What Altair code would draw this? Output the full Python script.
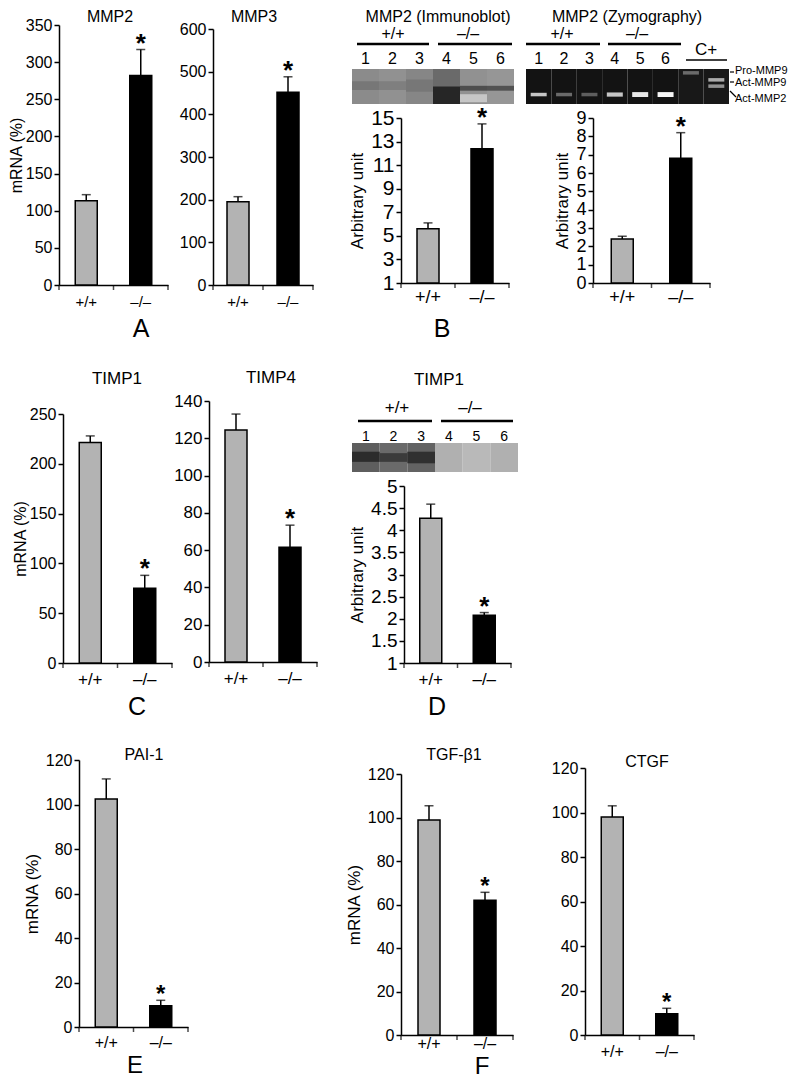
import altair as alt
import pandas as pd

# ---------------- data ----------------
GENO = ["+/+", "–/–"]
SIG = ["", "*"]
BAR_COLORS = ["#b3b3b3", "#000000"]

mmp2_mean = [113.5, 282.0]
mmp2_err = [121.6, 317.0]
mmp2_ticks = [0, 50, 100, 150, 200, 250, 300, 350]

mmp3_mean = [195.0, 452.0]
mmp3_err = [207.0, 488.0]
mmp3_ticks = [0, 100, 200, 300, 400, 500, 600]

ib_mean = [5.6, 12.4]
ib_err = [6.1, 14.5]
ib_ticks = [1, 3, 5, 7, 9, 11, 13, 15]

zy_mean = [2.4, 6.8]
zy_err = [2.55, 8.2]
zy_ticks = [0, 1, 2, 3, 4, 5, 6, 7, 8, 9]

timp1_mean = [221.5, 75.0]
timp1_err = [228.0, 88.0]
timp1_ticks = [0, 50, 100, 150, 200, 250]

timp4_mean = [124.4, 61.6]
timp4_err = [133.0, 73.4]
timp4_ticks = [0, 20, 40, 60, 80, 100, 120, 140]

timp1b_mean = [4.27, 2.08]
timp1b_err = [4.59, 2.14]
timp1b_ticks = [1, 1.5, 2, 2.5, 3, 3.5, 4, 4.5, 5]

pai_mean = [102.5, 9.5]
pai_err = [111.5, 12.0]
tgf_mean = [98.9, 62.0]
tgf_err = [105.4, 65.6]
ctgf_mean = [98.0, 9.5]
ctgf_err = [103.0, 12.0]
pct120_ticks = [0, 20, 40, 60, 80, 100, 120]

# blots (grey level 0 = black, 1 = white)
lanes6 = ["1", "2", "3", "4", "5", "6"]
ib_bg = [0.58, 0.60, 0.56, 0.45, 0.60, 0.62]
ib_band_lane = ["1", "2", "3", "4", "5", "6", "5"]
ib_band_top = [0.35, 0.35, 0.30, 0.50, 0.48, 0.48, 0.72]
ib_band_bot = [0.60, 0.60, 0.65, 1.00, 0.62, 0.62, 0.95]
ib_band_lvl = [0.50, 0.53, 0.50, 0.15, 0.33, 0.35, 0.80]

zy_lanes = ["1", "2", "3", "4", "5", "6", "C1", "C2"]
zy_bg = [0.06, 0.06, 0.06, 0.06, 0.06, 0.06, 0.08, 0.08]
zy_band_lane = ["1", "2", "3", "4", "5", "6", "C1", "C2", "C2"]
zy_band_top = [0.68, 0.68, 0.68, 0.67, 0.66, 0.66, 0.06, 0.26, 0.44]
zy_band_bot = [0.78, 0.78, 0.78, 0.79, 0.80, 0.80, 0.16, 0.36, 0.54]
zy_band_lvl = [0.80, 0.45, 0.40, 0.80, 0.92, 0.97, 0.45, 0.70, 0.60]

tb_bg = [0.40, 0.45, 0.42, 0.72, 0.75, 0.72]
tb_band_lane = ["1", "2", "3"]
tb_band_top = [0.30, 0.35, 0.30]
tb_band_bot = [0.65, 0.65, 0.70]
tb_band_lvl = [0.18, 0.25, 0.20]

# ---------------- layout helpers ----------------
W, H = 784, 1072
FONT = "Liberation Sans"


def P(v):
    return v - 8


def bar_panel(mean, err, ticks, ax, xr, yb, yt, lab_size, xlab_size, xlab_pad, fmt="d",
              title=None, title_size=17, title_pad=4, star_size=26, star_dy=2):
    df = pd.DataFrame({"g": GENO, "m": mean, "e": err, "s": SIG, "base": [ticks[0]] * 2})
    xs = alt.Scale(domain=GENO, range=[P(ax), P(xr)], paddingInner=0, paddingOuter=0)
    ys = alt.Scale(domain=[ticks[0], ticks[-1]], range=[P(yb), P(yt)], nice=False, zero=False)
    xaxis = alt.Axis(orient="bottom", offset=-(H - P(yb)), ticks=False, title=None,
                     labelAngle=0, labelFontSize=xlab_size, labelPadding=xlab_pad)
    yaxis = alt.Axis(orient="left", offset=-P(ax), values=ticks, format=fmt, title=title,
                     labelFontSize=lab_size, labelPadding=2, labelOverlap=False,
                     titleFont=FONT, titleFontSize=title_size, titleFontWeight="normal",
                     titlePadding=title_pad)
    base = alt.Chart(df)
    x = alt.X("g:N", scale=xs, sort=GENO, axis=None)
    out = []
    out.append(base.mark_bar(size=22, stroke="black", strokeWidth=1.5).encode(
        x=alt.X("g:N", scale=xs, sort=GENO, axis=xaxis),
        y=alt.Y("m:Q", scale=ys, axis=yaxis),
        y2="base:Q",
        color=alt.Color("g:N", scale=alt.Scale(domain=GENO, range=BAR_COLORS), legend=None),
    ))
    out.append(base.mark_rule(color="black", strokeWidth=1.5).encode(
        x=x, y=alt.Y("m:Q", scale=ys, axis=None), y2="e:Q"))
    out.append(base.mark_tick(color="black", orient="horizontal", size=9, thickness=1.5).encode(
        x=x, y=alt.Y("e:Q", scale=ys, axis=None)))
    out.append(base.mark_text(font=FONT, fontSize=star_size, fontWeight="bold",
                              baseline="alphabetic", dy=star_dy, color="black").encode(
        x=x, y=alt.Y("e:Q", scale=ys, axis=None), text="s:N"))
    # x-axis ticks at band edges
    out.append(base.mark_tick(color="black", orient="vertical", size=5, thickness=1.5,
                              yOffset=2.5).encode(
        x=alt.X("g:N", scale=xs, sort=GENO, axis=None, bandPosition=0),
        y=alt.Y("base:Q", scale=ys, axis=None)))
    out.append(base.transform_filter(alt.datum.g == GENO[-1]).mark_tick(
        color="black", orient="vertical", size=5, thickness=1.5, yOffset=2.5).encode(
        x=alt.X("g:N", scale=xs, sort=GENO, axis=None, bandPosition=1),
        y=alt.Y("base:Q", scale=ys, axis=None)))
    return out


def blot(lanes, bg, band_lane, band_top, band_bot, band_lvl, x0, x1, y0, y1,
         label_values, lab_size, lab_pad, band_size=None):
    xs = alt.Scale(domain=lanes, range=[P(x0), P(x1)], paddingInner=0, paddingOuter=0)
    ys = alt.Scale(domain=[0, 1], range=[P(y0), P(y1)], nice=False, zero=False)
    cs = alt.Scale(domain=[0, 1], range=["#000000", "#ffffff"])
    bgdf = pd.DataFrame({"lane": lanes, "lv": bg, "t": [0.0] * len(lanes), "b": [1.0] * len(lanes)})
    bddf = pd.DataFrame({"lane": band_lane, "lv": band_lvl, "t": band_top, "b": band_bot})
    back = alt.Chart(bgdf).mark_rect().encode(
        x=alt.X("lane:N", scale=xs, sort=lanes,
                axis=alt.Axis(orient="top", offset=-P(y0), values=label_values, ticks=False,
                              domain=False, labelAngle=0, labelFontSize=lab_size,
                              labelPadding=lab_pad, labelBaseline="alphabetic", title=None)),
        y=alt.Y("t:Q", scale=ys, axis=None), y2="b:Q",
        color=alt.Color("lv:Q", scale=cs, legend=None))
    if band_size:
        bm = alt.Chart(bddf).mark_bar(size=band_size)
    else:
        bm = alt.Chart(bddf).mark_rect()
    bands = bm.encode(
        x=alt.X("lane:N", scale=xs, sort=lanes, axis=None),
        y=alt.Y("t:Q", scale=ys, axis=None), y2="b:Q",
        color=alt.Color("lv:Q", scale=cs, legend=None))
    return [back, bands]


ONE = alt.Data(values=[{"k": 1}])


def txt(s, x, y, size, align="center"):
    return alt.Chart(ONE).mark_text(text=s, align=align, baseline="middle", fontSize=size,
                                    font=FONT, color="black").encode(
        x=alt.value(P(x)), y=alt.value(P(y)))


def line(x1, y1, x2, y2, w=2):
    return alt.Chart(ONE).mark_rule(color="black", strokeWidth=w).encode(
        x=alt.value(P(x1)), y=alt.value(P(y1)), x2=alt.value(P(x2)), y2=alt.value(P(y2)))


layers = []
# Row A / B
layers += bar_panel(mmp2_mean, mmp2_err, mmp2_ticks, 59, 168, 285, 25, 16, 15, 9,
                    title="mRNA (%)", title_size=16, title_pad=1)
layers += bar_panel(mmp3_mean, mmp3_err, mmp3_ticks, 213, 313, 285, 29, 16, 15, 9)
layers += blot(lanes6, ib_bg, ib_band_lane, ib_band_top, ib_band_bot, ib_band_lvl,
               352, 514, 69, 104, lanes6, 16, 6)
layers += bar_panel(ib_mean, ib_err, ib_ticks, 401, 509, 283, 118, 21, 18, 5,
                    title="Arbitrary unit")
layers += blot(zy_lanes, zy_bg, zy_band_lane, zy_band_top, zy_band_bot, zy_band_lvl,
               526, 729, 69, 104, lanes6, 16, 6, band_size=16)
layers += bar_panel(zy_mean, zy_err, zy_ticks, 593, 710, 283, 118, 18, 18, 5,
                    title="Arbitrary unit")
# Row C / D
layers += bar_panel(timp1_mean, timp1_err, timp1_ticks, 63, 172, 663, 414, 16, 17, 8,
                    title="mRNA (%)", title_size=16, title_pad=1)
layers += bar_panel(timp4_mean, timp4_err, timp4_ticks, 209, 317, 662, 401, 17, 17, 8)
layers += blot(lanes6, tb_bg, tb_band_lane, tb_band_top, tb_band_bot, tb_band_lvl,
               352, 518, 443, 472, lanes6, 14, 3)
layers += bar_panel(timp1b_mean, timp1b_err, timp1b_ticks, 404, 511, 663, 486, 19, 17, 8,
                    fmt=".1~f", title="Arbitrary unit")
# Row E / F
layers += bar_panel(pai_mean, pai_err, pct120_ticks, 79, 188, 1027, 760, 16, 16, 7,
                    title="mRNA (%)", star_size=24)
layers += bar_panel(tgf_mean, tgf_err, pct120_ticks, 401, 513, 1035, 774, 16, 16, 0,
                    title="mRNA (%)", star_size=24)
layers += bar_panel(ctgf_mean, ctgf_err, pct120_ticks, 585, 694, 1035, 768, 16, 16, 8,
                    star_size=24)

layers += [
    # panel titles
    txt("MMP2", 110, 17, 16), txt("MMP3", 254, 17, 16),
    txt("MMP2 (Immunoblot)", 438, 17, 16), txt("MMP2 (Zymography)", 627, 17, 16),
    txt("TIMP1", 117, 379, 17), txt("TIMP4", 271, 378, 17), txt("TIMP1", 439, 380, 17),
    txt("PAI-1", 144, 755, 16), txt("TGF-β1", 454, 755, 16), txt("CTGF", 647, 762, 16),
    # blot annotations
    txt("+/+", 393, 34, 16), txt("–/–", 468, 34, 16),
    line(357, 44, 429, 44, 2.5), line(438, 44, 512, 44, 2.5),
    txt("+/+", 562, 34, 16), txt("–/–", 637, 34, 16),
    line(526, 44, 600, 44, 2.5), line(608, 44, 681, 44, 2.5),
    txt("C+", 706, 50, 17), line(686, 60, 727, 60, 1.5),
    line(730, 72, 734, 72, 1.2), txt("Pro-MMP9", 735, 71, 11, align="left"),
    line(730, 82, 734, 82, 1.2), txt("Act-MMP9", 735, 83, 11, align="left"),
    line(730, 91, 736, 97, 1.2), txt("Act-MMP2", 735, 99, 11, align="left"),
    txt("+/+", 397, 408, 17), txt("–/–", 470, 408, 17),
    line(358, 421, 432, 421, 2.5), line(441, 421, 513, 421, 2.5),
    # panel letters
    txt("A", 141, 329, 25), txt("B", 442, 329, 25),
    txt("C", 137, 707, 25), txt("D", 437, 707, 25),
    txt("E", 135, 1066, 24), txt("F", 482, 1067, 24),
]

chart = alt.layer(*layers).resolve_scale(
    x="independent", y="independent", color="independent"
).properties(
    width=W, height=H, padding=0, autosize=alt.AutoSizeParams(type="none")
).configure_view(stroke=None).configure_axis(
    grid=False, domainColor="black", domainWidth=1.5, tickColor="black", tickWidth=1.5,
    tickSize=5, labelColor="black", titleColor="black", labelFont=FONT
)

chart.save("out.html", embed_options={"renderer": "svg", "actions": False})
